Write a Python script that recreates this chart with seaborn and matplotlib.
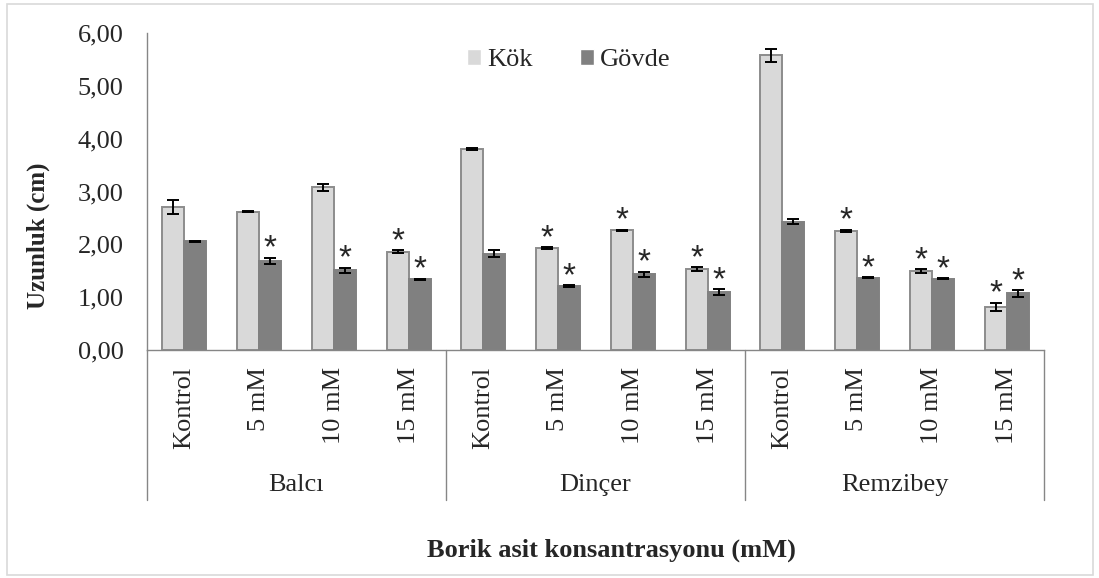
import numpy as np
import pandas as pd
import matplotlib.pyplot as plt
import matplotlib.transforms as mtransforms
from matplotlib.patches import Rectangle
import seaborn as sns

# cultivars and boric acid levels
cesitler = ['Balcı', 'Dinçer', 'Remzibey']
dozlar = ['Kontrol', '5 mM', '10 mM', '15 mM']

# mean lengths (cm) and standard errors
kok = [2.71, 2.62, 3.08, 1.86, 3.80, 1.93, 2.27, 1.53, 5.58, 2.26, 1.50, 0.82]
kok_err = [0.13, 0.01, 0.07, 0.03, 0.02, 0.02, 0.01, 0.04, 0.12, 0.02, 0.035, 0.075]
govde = [2.06, 1.69, 1.51, 1.34, 1.82, 1.21, 1.43, 1.10, 2.43, 1.37, 1.35, 1.07]
govde_err = [0.01, 0.06, 0.05, 0.01, 0.065, 0.015, 0.055, 0.05, 0.05, 0.01, 0.01, 0.065]

# significance marks (*)
kok_yildiz = [0, 0, 0, 1, 0, 1, 1, 1, 0, 1, 1, 1]
govde_yildiz = [0, 1, 1, 1, 0, 1, 1, 1, 0, 1, 1, 1]

sns.set_style('white')
plt.rcParams['font.family'] = ['Liberation Serif', 'DejaVu Serif']

anahtar = [c + '|' + d for c in cesitler for d in dozlar]
df = pd.DataFrame({
    'grup': anahtar * 2,
    'organ': ['Kök'] * 12 + ['Gövde'] * 12,
    'uzunluk': kok + govde,
})

fig = plt.figure(figsize=(10.99, 5.78), dpi=100)
ax = fig.add_axes([147 / 1099, 1 - 350 / 578, 897 / 1099, 317 / 578])

sns.barplot(data=df, x='grup', y='uzunluk', hue='organ', order=anahtar,
            hue_order=['Kök', 'Gövde'], palette=['#d9d9d9', '#808080'],
            width=0.59, errorbar=None, ax=ax, saturation=1)

kenar = ['#8c8c8c', '#808080']
degerler = [(kok, kok_err, kok_yildiz), (govde, govde_err, govde_yildiz)]
for k, (cont, (vals, errs, stars)) in enumerate(zip(ax.containers, degerler)):
    for bar, v, e, s in zip(cont, vals, errs, stars):
        bar.set_edgecolor(kenar[k])
        bar.set_linewidth(1.4)
        xc = bar.get_x() + bar.get_width() / 2
        ax.errorbar(xc, v, yerr=e, color='black', capsize=4.3, elinewidth=1.4,
                    capthick=1.4, zorder=5)
        if s:
            ax.annotate('*', (xc, v + e), xytext=(0, 0), textcoords='offset points',
                        ha='center', va='baseline', fontsize=24,
                        family='Liberation Sans')

ax.set_xlim(-0.5, 11.5)
ax.set_ylim(0, 6)
ax.set_yticks(np.arange(0, 7, 1))
ax.set_yticklabels([f'{t:.2f}'.replace('.', ',') for t in range(7)], fontsize=19)
ax.set_xticks(range(12))
ax.set_xticklabels(dozlar * 3, rotation=90, fontsize=19, va='top')
ax.tick_params(axis='both', length=0)
ax.tick_params(axis='y', pad=17)
ax.tick_params(axis='x', pad=12)
ax.set_xlabel('')
ax.set_ylabel('Uzunluk (cm)', fontsize=18, fontweight='bold')
ax.yaxis.set_label_coords(-0.108, 0.36)

sns.despine(ax=ax)
for sp in ['left', 'bottom']:
    ax.spines[sp].set_color('#868686')
    ax.spines[sp].set_linewidth(1)

# group separators and cultivar names
trans = mtransforms.blended_transform_factory(ax.transData, ax.transAxes)
for xs in [-0.5, 3.5, 7.5, 11.5]:
    ax.plot([xs, xs], [0, -0.473], transform=trans, clip_on=False,
            color='#868686', lw=1)
for i, c in enumerate(cesitler):
    ax.text(i * 4 + 1.5, -0.426, c, transform=trans, ha='center', va='center',
            fontsize=19)

sns.move_legend(ax, loc='center', bbox_to_anchor=(0.47, 0.915), ncol=2,
                frameon=False, title=None, fontsize=19, handlelength=0.55,
                handleheight=0.55, handletextpad=0.2, columnspacing=1.8)

fig.text(611 / 1099, 1 - 550 / 578, 'Borik asit konsantrasyonu (mM)',
         ha='center', va='center', fontsize=19, fontweight='bold')

fig.patches.append(Rectangle((7 / 1099, 3 / 578), 1086 / 1099, 571 / 578,
                             transform=fig.transFigure, fill=False,
                             edgecolor='#d9d9d9', lw=1.2))

fig.savefig('out.png', dpi=100)
